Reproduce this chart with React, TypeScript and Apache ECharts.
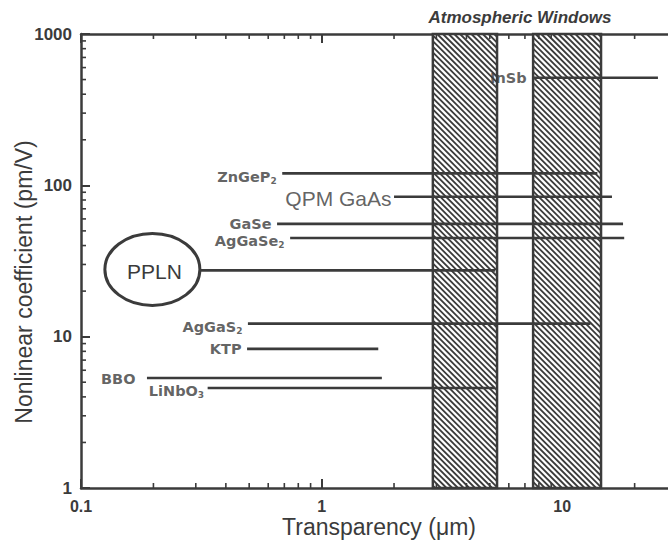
import React, { useEffect, useRef } from 'react';
import * as echarts from 'echarts';

// ---------- data ----------
const crystalLabels = ['InSb', 'ZnGeP', 'QPM GaAs', 'GaSe', 'AgGaSe', 'PPLN', 'AgGaS', 'KTP', 'BBO', 'LiNbO'];
const crystalSubscripts = ['', '2', '', '', '2', '', '2', '', '', '3'];
const nonlinearCoeff = [514, 120, 84, 55.6, 44.9, 27.4, 12.2, 8.3, 5.33, 4.58];
const transparencyStart = [7.5, 0.686, 2.0, 0.653, 0.74, 0.31, 0.494, 0.49, 0.188, 0.336];
const transparencyEnd = [25, 14.0, 16.1, 17.9, 18.1, 5.26, 13.1, 1.72, 1.78, 5.26];

const windowStart = [2.9, 7.57];
const windowEnd = [5.36, 14.5];

const pplnEllipseCenter = [0.198, 27.4];

const xMin = 0.1;
const xMax = 30;
const yMin = 1;
const yMax = 1000;
const xMinorTicks = [0.2, 0.3, 0.4, 0.5, 0.6, 0.7, 0.8, 0.9, 2, 3, 4, 5, 6, 7, 8, 9, 20];
const yMinorTicks = [2, 3, 4, 5, 6, 7, 8, 9, 20, 30, 40, 50, 60, 70, 80, 90, 200, 300, 400, 500, 600, 700, 800, 900];

// ---------- styles ----------
const INK = '#3b3b3b';
const LABEL_FONT = 'DejaVu Sans';
const SANS = 'Liberation Sans, Arial, sans-serif';

function hatch(x0: number, y0: number, x1: number, y1: number, step: number) {
  const out: any[] = [];
  for (let c = y0 - x1 + step / 2; c < y1 - x0; c += step) {
    const xa = Math.max(x0, y0 - c);
    const xb = Math.min(x1, y1 - c);
    if (xb > xa) {
      out.push({
        type: 'line',
        shape: { x1: xa, y1: xa + c, x2: xb, y2: xb + c },
        style: { stroke: INK, lineWidth: 1.8 },
      });
    }
  }
  return out;
}

function buildOption() {
  const lineSeries = crystalLabels.map((name, i) => ({
    type: 'line',
    name,
    data: [
      [transparencyStart[i], nonlinearCoeff[i]],
      [transparencyEnd[i], nonlinearCoeff[i]],
    ],
    symbol: 'none',
    lineStyle: { color: INK, width: 2.6 },
    z: 5,
    silent: true,
  }));

  const labelData = crystalLabels
    .map((name, i) => {
      if (name === 'PPLN') return null;
      const sub = crystalSubscripts[i];
      if (name === 'QPM GaAs') {
        return {
          value: [transparencyStart[i], nonlinearCoeff[i]],
          label: {
            formatter: name,
            fontFamily: SANS,
            fontWeight: 'normal',
            fontSize: 21,
            color: INK,
            distance: 2,
            offset: [0, 2],
          },
        };
      }
      let distance = 5;
      if (name === 'BBO') distance = 11;
      if (name === 'LiNbO') distance = 3;
      return {
        value: [transparencyStart[i], nonlinearCoeff[i]],
        label: {
          formatter: sub ? `{m|${name}}{s|${sub}}` : `{m|${name}}`,
          distance,
          offset: [0, sub ? 4 : 1],
        },
      };
    })
    .filter(Boolean);

  return {
    animation: false,
    backgroundColor: '#ffffff',
    grid: { left: 81, right: -9, top: 34, bottom: 56, containLabel: false, outerBoundsMode: 'none' },
    xAxis: [
      {
        type: 'log',
        logBase: 10,
        min: xMin,
        max: xMax,
        position: 'bottom',
        name: 'Transparency (μm)',
        nameLocation: 'middle',
        nameGap: 27,
        nameMoveOverlap: false,
        nameTextStyle: { fontFamily: SANS, fontSize: 23, color: INK },
        axisLine: { lineStyle: { color: INK, width: 2.5 } },
        axisTick: { inside: true, length: 9, lineStyle: { color: INK, width: 2 } },
        axisLabel: {
          margin: 10,
          fontFamily: SANS,
          fontWeight: 'bold',
          fontSize: 16,
          color: INK,
          showMaxLabel: false,
          formatter: (v: number) => (v >= 29 ? '' : String(+v.toPrecision(3))),
        },
        splitLine: { show: false },
      },
      {
        type: 'log',
        logBase: 10,
        min: xMin,
        max: xMax,
        position: 'top',
        axisLine: { lineStyle: { color: INK, width: 2.5 } },
        axisTick: { inside: true, length: 9, lineStyle: { color: INK, width: 2 } },
        axisLabel: { show: false },
        splitLine: { show: false },
      },
    ],
    yAxis: [
      {
        type: 'log',
        logBase: 10,
        min: yMin,
        max: yMax,
        position: 'left',
        name: 'Nonlinear coefficient (pm/V)',
        nameLocation: 'middle',
        nameGap: 46,
        nameMoveOverlap: false,
        nameTextStyle: { fontFamily: SANS, fontSize: 23, color: INK, padding: [0, 42, 0, 0] },
        axisLine: { lineStyle: { color: INK, width: 2.5 } },
        axisTick: { inside: true, length: 9, lineStyle: { color: INK, width: 2 } },
        axisLabel: {
          margin: 9,
          fontFamily: SANS,
          fontWeight: 'bold',
          fontSize: 17,
          color: INK,
          formatter: (v: number) => String(Math.round(v)),
        },
        splitLine: { show: false },
      },
      {
        type: 'log',
        logBase: 10,
        min: yMin,
        max: yMax,
        position: 'right',
        axisLine: { lineStyle: { color: INK, width: 2.5 } },
        axisTick: { inside: true, length: 9, lineStyle: { color: INK, width: 2 } },
        axisLabel: { show: false },
        splitLine: { show: false },
      },
    ],
    graphic: [
      {
        type: 'text',
        x: 520,
        y: 17,
        style: {
          text: 'Atmospheric Windows',
          font: `italic bold 17px ${SANS}`,
          fill: INK,
          align: 'center',
          verticalAlign: 'middle',
        },
      },
    ],
    series: [
      {
        type: 'custom',
        name: 'Atmospheric windows',
        coordinateSystem: 'cartesian2d',
        data: windowStart.map((s, i) => [s, windowEnd[i]]),
        encode: { x: [0, 1] },
        z: 1,
        silent: true,
        renderItem: (params: any, api: any) => {
          const p0 = api.coord([api.value(0), yMax]);
          const p1 = api.coord([api.value(1), yMin]);
          const x0 = p0[0], y0 = p0[1], x1 = p1[0], y1 = p1[1];
          return {
            type: 'group',
            children: [
              { type: 'rect', shape: { x: x0, y: y0, width: x1 - x0, height: y1 - y0 }, style: { fill: '#fff', stroke: 'none' } },
              ...hatch(x0, y0, x1, y1, 5.7),
              {
                type: 'rect',
                shape: { x: x0, y: y0, width: x1 - x0, height: y1 - y0 },
                style: { fill: 'none', stroke: INK, lineWidth: 2.5 },
              },
            ],
          };
        },
      },
      {
        type: 'custom',
        name: 'Minor ticks',
        coordinateSystem: 'cartesian2d',
        data: [[1, 10]],
        z: 2,
        silent: true,
        renderItem: (params: any, api: any) => {
          const children: any[] = [];
          const len = 5;
          const style = { stroke: INK, lineWidth: 1.6 };
          xMinorTicks.forEach((v) => {
            const b = api.coord([v, yMin]);
            const t = api.coord([v, yMax]);
            children.push({ type: 'line', shape: { x1: b[0], y1: b[1], x2: b[0], y2: b[1] - len }, style });
            children.push({ type: 'line', shape: { x1: t[0], y1: t[1], x2: t[0], y2: t[1] + len }, style });
          });
          yMinorTicks.forEach((v) => {
            const l = api.coord([xMin, v]);
            const r = api.coord([xMax, v]);
            children.push({ type: 'line', shape: { x1: l[0], y1: l[1], x2: l[0] + len, y2: l[1] }, style });
            children.push({ type: 'line', shape: { x1: r[0], y1: r[1], x2: r[0] - len, y2: r[1] }, style });
          });
          return { type: 'group', children };
        },
      },
      {
        type: 'custom',
        name: 'PPLN',
        coordinateSystem: 'cartesian2d',
        data: [pplnEllipseCenter],
        z: 6,
        silent: true,
        renderItem: (params: any, api: any) => {
          const c = api.coord([api.value(0), api.value(1)]);
          return {
            type: 'group',
            children: [
              {
                type: 'ellipse',
                shape: { cx: c[0], cy: c[1] - 1, rx: 47.5, ry: 36 },
                style: { fill: 'none', stroke: INK, lineWidth: 3 },
              },
              {
                type: 'text',
                x: c[0] + 2,
                y: c[1] + 1,
                style: {
                  text: 'PPLN',
                  font: `21px ${SANS}`,
                  fill: INK,
                  align: 'center',
                  verticalAlign: 'middle',
                },
              },
            ],
          };
        },
      },
      ...lineSeries,
      {
        type: 'scatter',
        name: 'Crystal labels',
        data: labelData,
        symbol: 'circle',
        symbolSize: 1,
        itemStyle: { color: 'rgba(0,0,0,0)' },
        z: 7,
        silent: true,
        label: {
          show: true,
          position: 'left',
          distance: 5,
          color: INK,
          rich: {
            m: { fontFamily: LABEL_FONT, fontWeight: 'bold', fontSize: 14.5, color: INK, lineHeight: 16, verticalAlign: 'top' },
            s: { fontFamily: LABEL_FONT, fontWeight: 'bold', fontSize: 9, color: INK, lineHeight: 9, verticalAlign: 'bottom' },
          },
        },
      },
    ],
  };
}

export default function App() {
  const ref = useRef<HTMLDivElement>(null);
  useEffect(() => {
    const chart = echarts.init(ref.current!, null, { renderer: 'svg' });
    chart.setOption(buildOption() as any);
    return () => chart.dispose();
  }, []);
  return (
    <div
      ref={ref}
      style={{ position: 'fixed', left: 0, top: 0, width: 668, height: 544, background: '#fff' }}
    />
  );
}
